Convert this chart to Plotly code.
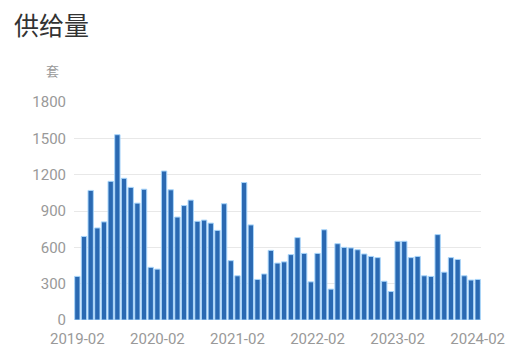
import plotly.graph_objects as go
import pandas as pd

months = [d.strftime("%Y-%m") for d in pd.date_range("2019-02-01", "2024-02-01", freq="MS")]
supply = [360, 690, 1070, 760, 810, 1145, 1530, 1170, 1095, 965, 1080, 435,
          420, 1230, 1075, 850, 945, 990, 815, 825, 800, 740, 960, 490,
          365, 1135, 785, 335, 380, 575, 470, 480, 540, 680, 550, 315,
          550, 745, 255, 630, 600, 595, 580, 545, 525, 515, 320, 235,
          650, 650, 515, 525, 365, 360, 705, 395, 515, 500, 365, 330, 335]
tick_labels = ["2019-02", "2020-02", "2021-02", "2022-02", "2023-02", "2024-02"]
y_ticks = [0, 300, 600, 900, 1200, 1500, 1800]

W, H = 512, 355
l, r, t, b = 74, 31, 102, 35
pw, ph = W - l - r, H - t - b

def px(xp):
    return (xp - l) / pw

def py(yp):
    return (H - b - yp) / ph

fig = go.Figure(go.Bar(
    x=months, y=supply,
    marker=dict(color="#2a69b2", line=dict(color="#a9d6fb", width=1)),
    width=0.8,
))

fig.update_layout(
    width=W, height=H,
    margin=dict(l=l, r=r, t=t, b=b, autoexpand=False),
    paper_bgcolor="white", plot_bgcolor="white",
    font=dict(family="Roboto, Noto Sans CJK SC, sans-serif", color="#999999", size=14),
    showlegend=False,
    xaxis=dict(
        type="category", automargin=False,
        tickvals=tick_labels, ticktext=tick_labels,
        showgrid=False, showline=False, ticks="",
        ticklabelstandoff=8,
        tickfont=dict(size=15, color="#999999"),
    ),
    yaxis=dict(
        range=[0, 1800], tickvals=y_ticks, automargin=False,
        showgrid=True, gridcolor="#e8e8e8", gridwidth=1,
        zeroline=False, showline=False, ticks="",
        ticklabelstandoff=7,
        tickfont=dict(size=15, color="#999999"),
    ),
    annotations=[
        dict(text="供给量", x=px(12), y=py(24), xref="paper", yref="paper", showarrow=False,
             font=dict(size=25, color="#333333", family="Noto Sans CJK SC"),
             xanchor="left", yanchor="middle"),
        dict(text="套", x=px(52), y=py(70), xref="paper", yref="paper", showarrow=False,
             font=dict(size=13, color="#999999", family="Noto Sans CJK SC"),
             xanchor="center", yanchor="middle"),
    ],
)

fig.write_html("out.html")
